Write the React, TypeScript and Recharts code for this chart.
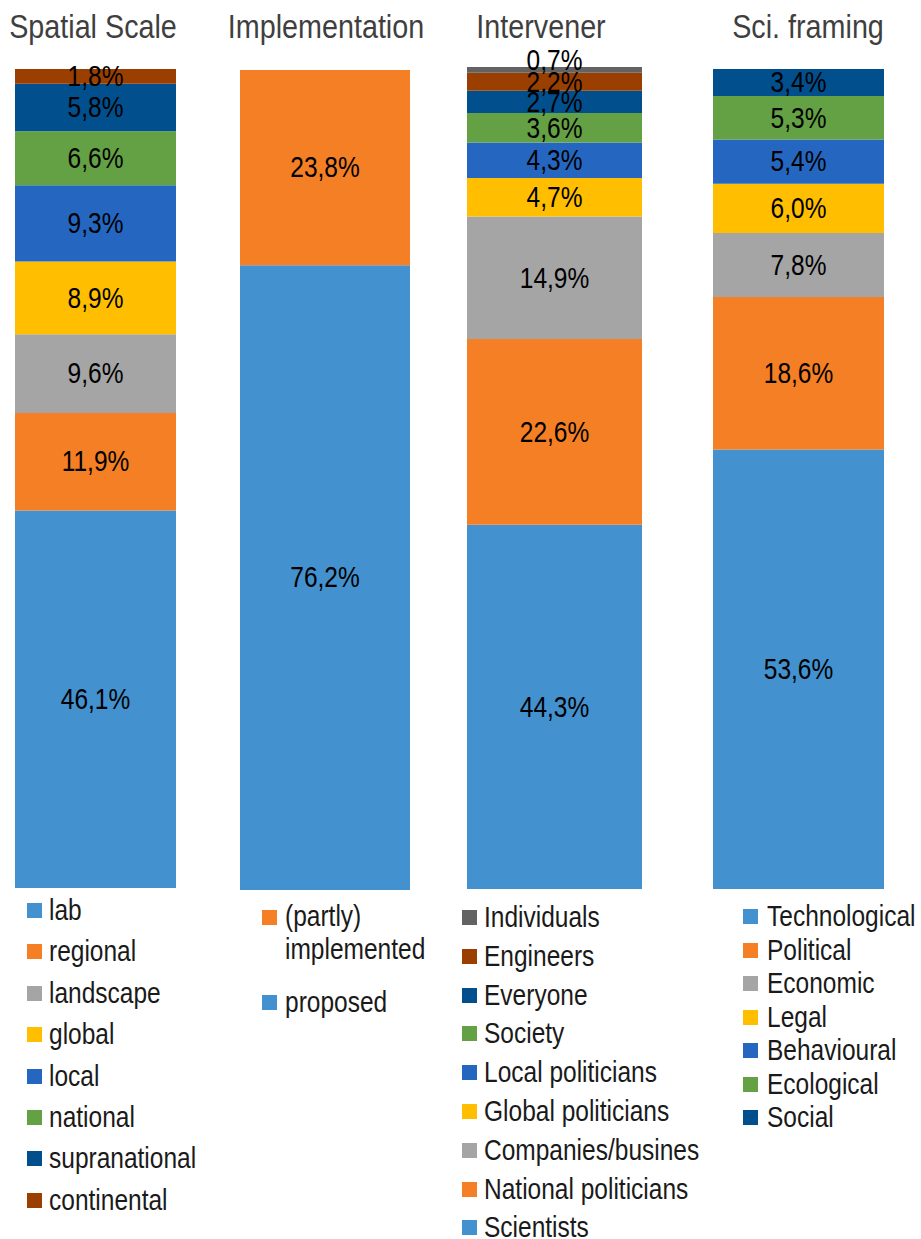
import React from 'react'
import { BarChart, Bar, XAxis, YAxis, LabelList } from 'recharts'

const FONT = "'Liberation Sans', Arial, sans-serif"
const SQUEEZE = 0.845 // the source uses a narrow face, so squeeze horizontally

// colours (Excel-like palette)
const LIGHT_BLUE = '#4391cf'
const ORANGE = '#f47f24'
const GREY = '#a5a5a5'
const YELLOW = '#ffbf00'
const BLUE = '#2567c0'
const GREEN = '#64a044'
const DARK_BLUE = '#024f8e'
const BROWN = '#9b3f00'
const DARK_GREY = '#636363'

// stacks are listed bottom -> top
const spatialNames = ['lab', 'regional', 'landscape', 'global', 'local', 'national', 'supranational', 'continental']
const spatialValues = [46.1, 11.9, 9.6, 8.9, 9.3, 6.6, 5.8, 1.8]
const spatialColors = [LIGHT_BLUE, ORANGE, GREY, YELLOW, BLUE, GREEN, DARK_BLUE, BROWN]

const implNames = ['proposed', '(partly) implemented']
const implValues = [76.2, 23.8]
const implColors = [LIGHT_BLUE, ORANGE]

const interNames = ['Scientists', 'National politicians', 'Companies/busines', 'Global politicians', 'Local politicians', 'Society', 'Everyone', 'Engineers', 'Individuals']
const interValues = [44.3, 22.6, 14.9, 4.7, 4.3, 3.6, 2.7, 2.2, 0.7]
const interColors = [LIGHT_BLUE, ORANGE, GREY, YELLOW, BLUE, GREEN, DARK_BLUE, BROWN, DARK_GREY]

const sciNames = ['Technological', 'Political', 'Economic', 'Legal', 'Behavioural', 'Ecological', 'Social']
const sciValues = [53.6, 18.6, 7.8, 6.0, 5.4, 5.3, 3.4]
const sciColors = [LIGHT_BLUE, ORANGE, GREY, YELLOW, BLUE, GREEN, DARK_BLUE]

const fmt = (v: any) => Number(v).toFixed(1).replace('.', ',') + '%'

const PAD = 30 // room above the bar so top labels are not cut off

function SegLabel(props: any) {
  const vb = props.viewBox && props.viewBox.width != null ? props.viewBox : props
  const { x, y, width, height } = vb
  if (x == null || props.value == null) return null
  const h = Math.abs(height)
  const top = Math.min(y, y + height)
  // very thin top slice: nudge label up like Excel does
  const shift = h < 10 ? -10 : 0
  return (
    <text
      transform={`translate(${x + width / 2},${top + h / 2 + shift}) scale(${SQUEEZE},1)`}
      textAnchor="middle"
      dominantBaseline="central"
      fontFamily={FONT}
      fontSize={29}
      fill="#000"
    >
      {fmt(props.value)}
    </text>
  )
}

interface StackProps {
  title: string
  names: string[]
  values: number[]
  colors: string[]
  left: number
  top: number
  width: number
  height: number
  titleX: number
}

function Stack({ title, names, values, colors, left, top, width, height, titleX }: StackProps) {
  const row: Record<string, any> = { name: title }
  names.forEach((n, i) => { row['s' + i] = values[i] })
  return (
    <>
      <div style={{ position: 'absolute', left: titleX - 150, width: 300, top: 6, textAlign: 'center', fontFamily: FONT, fontSize: 34, color: '#3f3f3f', lineHeight: '40px', transform: `scaleX(${SQUEEZE})` }}>
        {title}
      </div>
      <div style={{ position: 'absolute', left, top: top - PAD }}>
        <BarChart width={width} height={height + PAD} data={[row]} margin={{ top: PAD, right: 0, bottom: 0, left: 0 }} barCategoryGap={0}>
          <XAxis dataKey="name" hide />
          <YAxis hide domain={[0, 100]} type="number" allowDataOverflow />
          {names.map((n, i) => (
            <Bar key={n} dataKey={'s' + i} name={n} stackId="a" fill={colors[i]} isAnimationActive={false}>
              <LabelList dataKey={'s' + i} content={SegLabel} />
            </Bar>
          ))}
        </BarChart>
      </div>
    </>
  )
}

interface LegendProps {
  names: string[]
  colors: string[]
  order: number[]
  left: number
  textLeft: number
  centers: number[]
}

const legendText: React.CSSProperties = {
  position: 'absolute', fontFamily: FONT, fontSize: 29, lineHeight: '34px', color: '#1a1a1a',
  whiteSpace: 'pre', transform: `scaleX(${SQUEEZE})`, transformOrigin: 'left center',
}

function Legend({ names, colors, order, left, textLeft, centers }: LegendProps) {
  return (
    <>
      {order.map((idx, k) => (
        <React.Fragment key={names[idx]}>
          <div style={{ position: 'absolute', left, top: centers[k] - 7, width: 15, height: 15, background: colors[idx] }} />
          <div style={{ ...legendText, left: textLeft, top: centers[k] - 17 }}>
            {names[idx]}
          </div>
        </React.Fragment>
      ))}
    </>
  )
}

const spacing = (start: number, step: number, n: number) => Array.from({ length: n }, (_, i) => start + i * step)

export default function App() {
  return (
    <div style={{ position: 'absolute', left: 0, top: 0, width: 921, height: 1239, background: '#fff', overflow: 'hidden' }}>
      <Stack title="Spatial Scale" names={spatialNames} values={spatialValues} colors={spatialColors} left={15} top={69} width={161} height={819} titleX={93} />
      <Stack title="Implementation" names={implNames} values={implValues} colors={implColors} left={240} top={70} width={170} height={820} titleX={326} />
      <Stack title="Intervener" names={interNames} values={interValues} colors={interColors} left={467} top={67} width={175} height={822} titleX={541} />
      <Stack title="Sci. framing" names={sciNames} values={sciValues} colors={sciColors} left={713} top={69} width={171} height={820} titleX={808} />

      <Legend names={spatialNames} colors={spatialColors} order={[0, 1, 2, 3, 4, 5, 6, 7]} left={27} textLeft={49} centers={spacing(910, 41.4, 8)} />
      <div style={{ position: 'absolute', left: 262, top: 910, width: 15, height: 15, background: ORANGE }} />
      <div style={{ ...legendText, left: 285, top: 900, lineHeight: '33px' }}>
        {'(partly)\nimplemented'}
      </div>
      <Legend names={implNames} colors={implColors} order={[0]} left={262} textLeft={285} centers={[1002]} />
      <Legend names={interNames} colors={interColors} order={[8, 7, 6, 5, 4, 3, 2, 1, 0]} left={462} textLeft={484} centers={spacing(917, 38.8, 9)} />
      <Legend names={sciNames} colors={sciColors} order={[0, 1, 2, 3, 4, 5, 6]} left={743} textLeft={767} centers={spacing(916, 33.5, 7)} />
    </div>
  )
}
